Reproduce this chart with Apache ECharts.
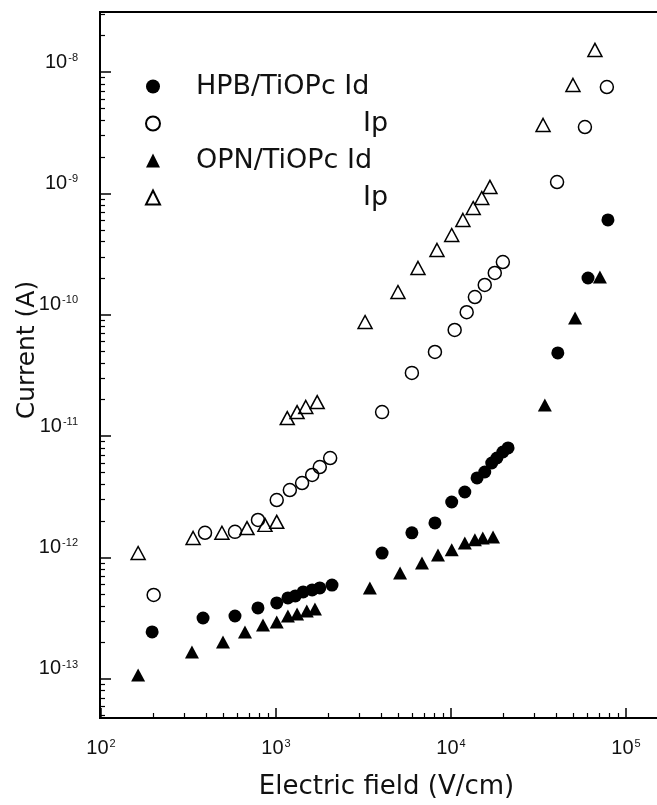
<!DOCTYPE html>
<html>
<head>
<meta charset="utf-8">
<script src="https://cdn.jsdelivr.net/npm/echarts@6/dist/echarts.min.js"></script>
<style>
html,body{margin:0;padding:0;background:#fff;}
#chart{width:657px;height:805px;}
</style>
</head>
<body>
<div id="chart"></div>
<script>
// ---- data ----
const hpbIdX = [196, 383, 583, 789, 1010, 1170, 1290, 1430, 1610, 1780, 2090, 4040, 5980, 8100, 10100, 12000, 14100, 15600, 17100, 18300, 19800, 21200, 40800, 60700, 78900];
const hpbIdY = [2.44e-13, 3.18e-13, 3.30e-13, 3.85e-13, 4.23e-13, 4.65e-13, 4.83e-13, 5.21e-13, 5.41e-13, 5.62e-13, 5.94e-13, 1.09e-12, 1.60e-12, 1.93e-12, 2.87e-12, 3.47e-12, 4.53e-12, 5.07e-12, 6.01e-12, 6.61e-12, 7.41e-12, 8.0e-12, 4.85e-11, 2.01e-10, 6.04e-10];

const hpbIpX = [200, 393, 583, 789, 1010, 1200, 1410, 1610, 1780, 2040, 4040, 5980, 8100, 10500, 12300, 13700, 15600, 17800, 19800, 40400, 58300, 77800];
const hpbIpY = [4.92e-13, 1.60e-12, 1.63e-12, 2.04e-12, 2.98e-12, 3.60e-12, 4.11e-12, 4.79e-12, 5.57e-12, 6.61e-12, 1.58e-11, 3.32e-11, 4.94e-11, 7.50e-11, 1.05e-10, 1.40e-10, 1.76e-10, 2.21e-10, 2.72e-10, 1.24e-9, 3.52e-9, 7.52e-9];

const opnIdX = [163, 331, 498, 665, 843, 1010, 1170, 1320, 1500, 1670, 3440, 5120, 6830, 8430, 10100, 12000, 13700, 15200, 17400, 34400, 51200, 71000];
const opnIdY = [1.08e-13, 1.67e-13, 2.02e-13, 2.44e-13, 2.79e-13, 2.95e-13, 3.30e-13, 3.43e-13, 3.63e-13, 3.77e-13, 5.62e-13, 7.47e-13, 9.03e-13, 1.05e-12, 1.16e-12, 1.32e-12, 1.40e-12, 1.45e-12, 1.48e-12, 1.81e-11, 9.41e-11, 2.05e-10];

const opnIpX = [163, 336, 491, 683, 865, 1010, 1160, 1320, 1480, 1720, 3230, 4980, 6480, 8320, 10100, 11700, 13400, 15000, 16700, 33600, 49800, 66500];
const opnIpY = [1.09e-12, 1.45e-12, 1.60e-12, 1.75e-12, 1.86e-12, 1.97e-12, 1.41e-11, 1.58e-11, 1.74e-11, 1.91e-11, 8.72e-11, 1.54e-10, 2.43e-10, 3.42e-10, 4.54e-10, 6.04e-10, 7.58e-10, 9.16e-10, 1.13e-9, 3.66e-9, 7.82e-9, 1.52e-8];

const seriesNames = ['HPB/TiOPc Id', 'HPB/TiOPc Ip', 'OPN/TiOPc Id', 'OPN/TiOPc Ip'];
const xTickValues = [1e2, 1e3, 1e4, 1e5];
const yTickValues = [1e-13, 1e-12, 1e-11, 1e-10, 1e-9, 1e-8];
const xAxisTitle = 'Electric field (V/cm)';
const yAxisTitle = 'Current (A)';

// axis extents
const xMin = 98.7, xMax = 1.545e5;
const yMin = 4.77e-14, yMax = 3.12e-8;

// minor tick positions (2..9 x each decade)
function minorTicks(lo, hi) {
  const out = [];
  for (let e = Math.floor(Math.log10(lo)); e <= Math.ceil(Math.log10(hi)); e++) {
    for (let m = 2; m <= 9; m++) {
      const v = m * Math.pow(10, e);
      if (v > lo && v < hi) out.push(v);
    }
  }
  return out;
}
const xMinor = minorTicks(xMin, xMax);
const yMinor = minorTicks(yMin, yMax);

const zip = (xs, ys) => xs.map((x, i) => [x, ys[i]]);

const gridLeft = 100, gridTop = 12, gridRight = -2, gridBottom = 87;
const W = 657, H = 805;
const gridW = W - gridLeft - gridRight;
const gridH = H - gridTop - gridBottom;

const powLabel = v => {
  const e = Math.round(Math.log10(v));
  return '{b|10}{s|' + e + '}';
};
const labelRich = {
  b: {fontSize: 20, fontFamily: 'Liberation Sans', color: '#111'},
  s: {fontSize: 11, fontFamily: 'Liberation Sans', color: '#111', verticalAlign: 'top', padding: [0, 0, 0, 1]}
};

const openStyle = {color: 'transparent', borderColor: '#000', borderWidth: 1.5, opacity: 1};
const fillStyle = {color: '#000', borderColor: '#000', borderWidth: 0, opacity: 1};

const chart = echarts.init(document.getElementById('chart'), null, {renderer: 'canvas'});
chart.setOption({
  backgroundColor: '#fff',
  animation: false,
  grid: {left: gridLeft, top: gridTop, right: gridRight, bottom: gridBottom, outerBoundsMode: 'none', show: true, borderColor: '#000', borderWidth: 2, backgroundColor: 'transparent'},
  legend: {
    orient: 'vertical', left: 140, top: 68,
    itemWidth: 14, itemHeight: 14, itemGap: 10,
    selectedMode: false,
    data: seriesNames,
    formatter: name => name.endsWith('Ip') ? '{p|Ip}' : '{n|' + name + '}',
    textStyle: {
      fontSize: 27, fontFamily: 'DejaVu Sans', color: '#111',
      rich: {
        n: {fontSize: 27, fontFamily: 'DejaVu Sans', color: '#111', padding: [0, 0, 0, 31]},
        p: {fontSize: 27, fontFamily: 'DejaVu Sans', color: '#111', padding: [0, 0, 0, 198]}
      }
    }
  },
  xAxis: [
    {
      type: 'log', logBase: 10, min: xMin, max: xMax, position: 'bottom',
      axisLine: {show: true, lineStyle: {color: '#000', width: 2}},
      axisTick: {show: true, inside: true, length: 10, customValues: xTickValues, lineStyle: {color: '#000', width: 1.5}},
      axisLabel: {show: true, customValues: xTickValues, formatter: powLabel, margin: 20, rich: labelRich},
      minorTick: {show: false}, splitLine: {show: false},
      name: xAxisTitle, nameLocation: 'middle', nameGap: 56, nameMoveOverlap: false,
      nameTextStyle: {fontSize: 26, fontFamily: 'DejaVu Sans', color: '#111', padding: [0, 0, 0, 14]}
    },
    {
      type: 'log', logBase: 10, min: xMin, max: xMax, position: 'top', offset: -gridH,
      axisLine: {show: false},
      axisTick: {show: true, inside: false, length: 5, customValues: xMinor, lineStyle: {color: '#000', width: 1.2}},
      axisLabel: {show: false}, splitLine: {show: false}
    }
  ],
  yAxis: [
    {
      type: 'log', logBase: 10, min: yMin, max: yMax, position: 'left',
      axisLine: {show: true, lineStyle: {color: '#000', width: 2}},
      axisTick: {show: true, inside: true, length: 11, customValues: yTickValues, lineStyle: {color: '#000', width: 1.5}},
      axisLabel: {show: true, customValues: yTickValues, formatter: powLabel, margin: 22, verticalAlign: 'bottom', rich: labelRich},
      minorTick: {show: false}, splitLine: {show: false},
      name: yAxisTitle, nameLocation: 'middle', nameGap: 60, nameMoveOverlap: false,
      nameTextStyle: {fontSize: 25, fontFamily: 'DejaVu Sans', color: '#111', padding: [0, 0, 0, 30]}
    },
    {
      type: 'log', logBase: 10, min: yMin, max: yMax, position: 'right', offset: -gridW,
      axisLine: {show: false},
      axisTick: {show: true, inside: false, length: 5, customValues: yMinor, lineStyle: {color: '#000', width: 1.2}},
      axisLabel: {show: false}, splitLine: {show: false}
    }
  ],
  series: [
    {name: seriesNames[0], type: 'scatter', symbol: 'circle', symbolSize: 13, itemStyle: fillStyle, emphasis: {disabled: true}, data: zip(hpbIdX, hpbIdY), z: 3},
    {name: seriesNames[1], type: 'scatter', symbol: 'circle', symbolSize: 13, itemStyle: openStyle, emphasis: {disabled: true}, data: zip(hpbIpX, hpbIpY), z: 2},
    {name: seriesNames[2], type: 'scatter', symbol: 'triangle', symbolSize: [14, 13], itemStyle: fillStyle, emphasis: {disabled: true}, data: zip(opnIdX, opnIdY), z: 3},
    {name: seriesNames[3], type: 'scatter', symbol: 'triangle', symbolSize: [14, 13], itemStyle: openStyle, emphasis: {disabled: true}, data: zip(opnIpX, opnIpY), z: 2}
  ]
});
</script>
</body>
</html>
